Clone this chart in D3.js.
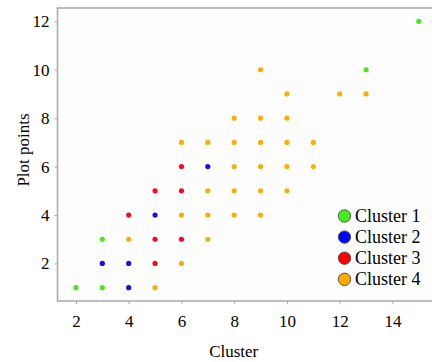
<!DOCTYPE html>
<html><head><meta charset="utf-8">
<script src="https://cdn.jsdelivr.net/npm/d3@7"></script>
<style>
html,body{margin:0;padding:0;background:#fff;}
svg{display:block;font-family:"Liberation Serif","Times New Roman",serif;}
</style></head>
<body><svg id="c" width="432" height="362"></svg>
<script>
const clusterNames = ["Cluster 1","Cluster 2","Cluster 3","Cluster 4"];
const clusterColors = ["#4fe02a","#1414d0","#e8101c","#f7ae14"];
const legendColors = ["#44ee22","#0000ff","#ff0000","#ffaa00"];
const cluster1 = [[2,1],[3,1],[3,3],[13,10],[15,12]];
const cluster2 = [[4,1],[3,2],[4,2],[5,4],[7,6]];
const cluster3 = [[5,2],[4,4],[5,3],[6,3],[5,5],[6,5],[6,6]];
const cluster4 = [[5,1],[6,2],[4,3],[7,3],[6,4],[7,4],[8,4],[9,4],[7,5],[8,5],[9,5],[10,5],
  [8,6],[9,6],[10,6],[11,6],[6,7],[7,7],[8,7],[9,7],[10,7],[11,7],[8,8],[9,8],[10,8],
  [9,10],[10,9],[12,9],[13,9]];
const xTicks = [2,4,6,8,10,12,14];
const yTicks = [2,4,6,8,10,12];
const xLabel = "Cluster", yLabel = "Plot points";

const svg = d3.select("#c");
const L = 57.5, R = 432, T = 8, B = 301;
const x = d3.scaleLinear().domain([1.3, 15.5]).range([L, R]);
const y = d3.scaleLinear().domain([0.45, 12.55]).range([B, T]);

svg.append("rect").attr("x",L).attr("y",T).attr("width",R-L).attr("height",B-T).attr("fill","#fdfdfd");

const frame = "#a8a8a8";
svg.append("path").attr("d",`M${R},${T}H${L}V${B}H${R}`).attr("fill","none").attr("stroke",frame).attr("stroke-width",1.5);

const xa = svg.append("g").attr("transform",`translate(0,${B})`)
  .call(d3.axisBottom(x).tickValues(xTicks).tickSize(3).tickPadding(11));
const ya = svg.append("g").attr("transform",`translate(${L},0)`)
  .call(d3.axisLeft(y).tickValues(yTicks).tickSize(3).tickPadding(5));
[xa,ya].forEach(a=>{
  a.select(".domain").remove();
  a.selectAll(".tick line").attr("stroke",frame);
  a.selectAll(".tick text").attr("fill","#000").style("font-size","17px").style("font-family","'Liberation Serif',serif");
});

const all = [cluster1,cluster2,cluster3,cluster4];
all.forEach((pts,i)=>{
  svg.append("g").selectAll("circle").data(pts).join("circle")
    .attr("cx",d=>x(d[0])).attr("cy",d=>y(d[1])).attr("r",2.6)
    .attr("fill",clusterColors[i]);
});

const lg = svg.append("g");
clusterNames.forEach((n,i)=>{
  const cy = 216 + i*21.1;
  lg.append("circle").attr("cx",344.5).attr("cy",cy).attr("r",6.2)
    .attr("fill",legendColors[i]).attr("stroke","#555").attr("stroke-width",1);
  lg.append("text").attr("x",355).attr("y",cy+6).text(n)
    .style("font-size","18px").attr("fill","#000");
});

svg.append("text").attr("x",233.7).attr("y",357).attr("text-anchor","middle")
  .style("font-size","17px").text(xLabel);
svg.append("text").attr("transform","translate(29,150) rotate(-90)").attr("text-anchor","middle")
  .style("font-size","17px").text(yLabel);
</script></body></html>
